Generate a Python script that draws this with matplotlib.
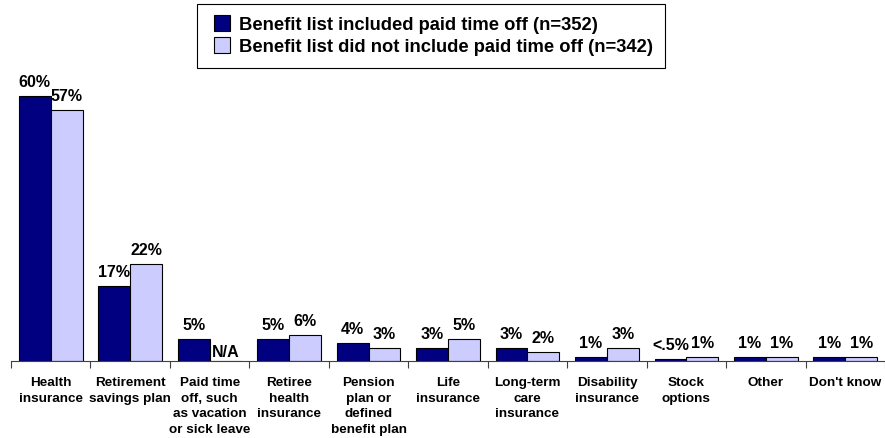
import numpy as np
import matplotlib
matplotlib.use("Agg")
import matplotlib.pyplot as plt
from matplotlib.lines import Line2D

plt.rcParams['font.family'] = ['Liberation Sans', 'DejaVu Sans']
plt.rcParams['font.weight'] = 'bold'

categories = [
    "Health\ninsurance",
    "Retirement\nsavings plan",
    "Paid time\noff, such\nas vacation\nor sick leave",
    "Retiree\nhealth\ninsurance",
    "Pension\nplan or\ndefined\nbenefit plan",
    "Life\ninsurance",
    "Long-term\ncare\ninsurance",
    "Disability\ninsurance",
    "Stock\noptions",
    "Other",
    "Don't know",
]
included = [60, 17, 5, 5, 4, 3, 3, 1, 0.4, 1, 1]
included_labels = ["60%", "17%", "5%", "5%", "4%", "3%", "3%", "1%", "<.5%", "1%", "1%"]
not_included = [57, 22, 0, 6, 3, 5, 2, 3, 1, 1, 1]
not_included_labels = ["57%", "22%", "N/A", "6%", "3%", "5%", "2%", "3%", "1%", "1%", "1%"]

dark = "#000080"
light = "#CCCCFF"

W, H = 885, 439
fig = plt.figure(figsize=(W / 100, H / 100), dpi=100)
ax = fig.add_axes([11 / W, 77 / H, 874 / W, 291 / H])

x = np.arange(len(categories))
bw = 0.4
ax.bar(x - bw / 2, included, bw, color=dark, edgecolor="black", linewidth=0.8)
ax.bar(x + bw / 2, not_included, bw, color=light, edgecolor="black", linewidth=0.8)

fs_val = 11.5
for xi, v, lab in zip(x, included, included_labels):
    ax.annotate(lab, (xi - bw / 2, v), xytext=(0, 7.2), textcoords="offset points",
                ha="center", va="baseline", fontsize=fs_val, fontweight="bold")
for xi, v, lab in zip(x, not_included, not_included_labels):
    off = 3.6 if lab == "N/A" else 7.2
    ax.annotate(lab, (xi + bw / 2, v), xytext=(0, off), textcoords="offset points",
                ha="center", va="baseline", fontsize=fs_val, fontweight="bold")

ax.set_xlim(-0.5, -0.5 + 874 / 79.8)
ax.set_ylim(0, 66)
ax.set_yticks([])
for s in ["left", "right", "top"]:
    ax.spines[s].set_visible(False)
ax.spines["bottom"].set_color("#404040")

# boundaries as major ticks, category names on minor ticks
ax.set_xticks(np.arange(-0.5, len(categories) + 0.5, 1))
ax.set_xticklabels([])
ax.tick_params(axis="x", which="major", length=5, color="#404040", direction="out")
ax.set_xticks(x, minor=True)
ax.set_xticklabels(categories, minor=True, fontsize=9.7, fontweight="bold",
                   linespacing=1.4, va="top")
ax.tick_params(axis="x", which="minor", length=0, pad=11)

handles = [
    Line2D([], [], linestyle="none", marker="s", markersize=11, markerfacecolor=dark,
           markeredgecolor="black", markeredgewidth=0.8,
           label="Benefit list included paid time off (n=352)"),
    Line2D([], [], linestyle="none", marker="s", markersize=11, markerfacecolor=light,
           markeredgecolor="black", markeredgewidth=0.8,
           label="Benefit list did not include paid time off (n=342)"),
]
leg = fig.legend(handles=handles, loc="upper left", bbox_to_anchor=(197 / W, 1 - 5 / H),
                 frameon=True, fancybox=False, edgecolor="black", framealpha=1,
                 prop={"size": 13.2, "weight": "bold"}, handlelength=1.4,
                 handletextpad=0.19, labelspacing=0.25, borderpad=0.68, borderaxespad=0)
leg.get_frame().set_linewidth(0.8)

fig.savefig("out.png", dpi=100)
